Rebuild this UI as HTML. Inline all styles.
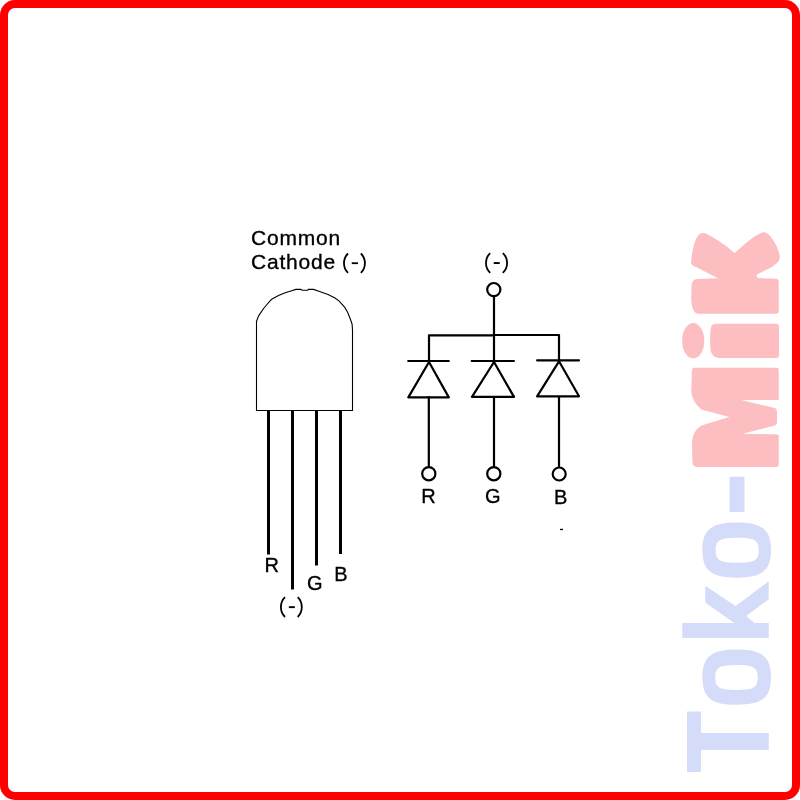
<!DOCTYPE html>
<html><head><meta charset="utf-8">
<style>
html,body{margin:0;padding:0;background:#fff;width:800px;height:800px;overflow:hidden}
svg{display:block;position:absolute;left:0;top:0}
text{font-family:"Liberation Sans",sans-serif;fill:#000;stroke:#000;stroke-width:0.35px}
svg{will-change:transform}
</style></head>
<body>
<svg width="800" height="800" viewBox="0 0 800 800">
  <!-- red frame -->
  <rect x="4" y="4" width="792" height="792" rx="11" ry="11" fill="#fff" stroke="#fe0000" stroke-width="8"/>

  <!-- watermark Toko- (lavender) -->
  <g fill="#d5dcfa">
    <!-- T -->
    <rect x="687" y="711.5" width="14" height="60.5"/>
    <rect x="701" y="733" width="67.75" height="17"/>
    <!-- o (first, near T) -->
    <path fill-rule="evenodd" d="M736.7,649.6 C762.08,649.6 771,656.78 771,677.2 C771,697.62 762.08,704.8 736.7,704.8 C711.32,704.8 702.4,697.62 702.4,677.2 C702.4,656.78 711.32,649.6 736.7,649.6Z M736.5,665 C753.5,665 757.75,667.5 757.75,677.5 C757.75,687.5 753.5,690 736.5,690 C719.5,690 715.25,687.5 715.25,677.5 C715.25,667.5 719.5,665 736.5,665Z"/>
    <!-- k -->
    <rect x="682.25" y="623" width="86.5" height="15"/>
    <polygon points="705.2,585.7 735.6,606 768.7,581.2 768.7,599.2 746.2,616.1 755.2,623.5 735,623.5 705.2,602.6"/>
    <!-- o (second) -->
    <path fill-rule="evenodd" d="M736.7,522.4 C762.08,522.4 771,529.59 771,550.05 C771,570.51 762.08,577.7 736.7,577.7 C711.32,577.7 702.4,570.51 702.4,550.05 C702.4,529.59 711.32,522.4 736.7,522.4Z M737.25,537.8 C754.49,537.8 758.8,540.3 758.8,550.3 C758.8,560.3 754.49,562.8 737.25,562.8 C720.01,562.8 715.7,560.3 715.7,550.3 C715.7,540.3 720.01,537.8 737.25,537.8Z"/>
    <!-- hyphen -->
    <rect x="729.5" y="476.75" width="15" height="35.25"/>
  </g>

  <!-- watermark MiK (pink) -->
  <g fill="#fdbec1">
    <!-- M -->
    <path d="M693.75,367.75 L776.9,367.75 Q778.75,367.75 778.75,370 L778.75,400 L741.25,400 L775,408.1 Q777,409 777,412 L777,422 Q777,425 775,425.5 L742.5,433.75 L778.1,434.4 Q778.75,434.6 778.75,436 L778.75,464.5 Q778.75,466.9 776.5,466.9 L696.25,466.9 Q692.5,466.5 692.5,462 L691.9,441.25 Q693,431 701.25,425.6 L729.4,416.9 L701.25,409.4 Q692,402 691.25,391.25 L691.9,372.5 Q692,367.9 693.75,367.75 Z"/>
    <!-- i dot -->
    <ellipse cx="693.2" cy="340.8" rx="11.1" ry="17.7"/>
    <!-- i stem -->
    <path d="M715,323.8 L776,323.8 Q779,323.8 779,327 L779,355 Q779,357.9 776,357.9 L718.5,357.9 Q712,357.5 710.5,350 Q709.7,340 710.5,330 Q711.5,323.8 715,323.8 Z"/>
    <!-- K -->
    <path d="M698.75,313.75 L776.9,313.75 Q778.75,313.5 778.75,311 L778.75,282 Q778.5,278.75 776,278.75 L758,278 Q755.5,276 757,274.5 L763,271.5 L772,267 Q780,262 779.9,257.25 Q779,247 769.75,235.5 Q766,231 762,232.5 L754.75,236.25 L745,243.75 L734.5,253 L726.25,246 L715,238.5 L705.25,233.25 Q700,232 697,237 Q692,247 691,263.25 Q692,266 696.25,267 L707.5,273 L718,278.25 L696.25,279 Q692,280 691.5,285 L691.25,300 Q692,313.75 698.75,313.75 Z"/>
  </g>

  <!-- LED package -->
  <g fill="none" stroke="#000" stroke-width="1.1">
    <path d="M256.5,410.5 L256.5,321.25 L258.4,316.25 L259.6,314.4 L263.4,308.75 L266.5,305 L270.25,300.6 L272.1,299 L279,295.3 L285.25,292.8 L290.9,290.9 L295.9,289.4 L300.9,289.4 L302,290.3 L307.7,290.3 L308.4,289.4 L313.6,289.4 L318.9,291.3 L328,294.45 L335,297.95 L339.2,301.1 L344.8,307.4 L347.6,312.3 L350.4,319.3 L352.1,324.2 L352.5,330 L352.5,410.5 Z"/>
  </g>
  <g fill="#000">
    <rect x="267" y="410" width="3" height="144.5"/>
    <rect x="291" y="410" width="3" height="179.5"/>
    <rect x="315" y="410" width="3" height="155.5"/>
    <rect x="339" y="410" width="3" height="144"/>
  </g>
  <text x="251" y="244.6" font-size="21" letter-spacing="0.8">Common</text>
  <text x="251" y="268.8" font-size="21" letter-spacing="0.8">Cathode</text>
  <path d="M285.00,597.20 C281.92,600.17 280.90,602.64 280.90,607.10 C280.90,611.56 281.92,614.03 285.00,617.00 M297.70,597.20 C300.77,600.17 301.80,602.64 301.80,607.10 C301.80,611.56 300.77,614.03 297.70,617.00" fill="none" stroke="#000" stroke-width="1.8"/><rect x="351.75" y="262.30" width="6.25" height="1.80" fill="#000"/>
  <text x="264.5" y="572" font-size="20">R</text>
  <text x="307" y="589.5" font-size="20">G</text>
  <text x="334.3" y="581" font-size="20">B</text>
  <path d="M490.20,253.10 C487.05,256.06 486.00,258.52 486.00,262.95 C486.00,267.38 487.05,269.85 490.20,272.80 M502.80,253.10 C506.03,256.06 507.10,258.52 507.10,262.95 C507.10,267.38 506.03,269.85 502.80,272.80" fill="none" stroke="#000" stroke-width="1.8"/><rect x="288.85" y="606.20" width="6.00" height="1.90" fill="#000"/>

  <!-- schematic -->
  <g fill="none" stroke="#000" stroke-width="2.2" stroke-linecap="round" stroke-linejoin="round">
    <circle cx="493.8" cy="289.6" r="6.6"/>
    <line x1="494" y1="296" x2="494" y2="361"/>
    <polyline points="429,361 429,335.3 494,335.3"/>
    <polyline points="494,335 559,335 559,361"/>
    <!-- diode R -->
    <line x1="408.2" y1="361" x2="448.8" y2="361"/>
    <polygon points="429,362 408.3,397.4 448.8,397.4"/>
    <line x1="428.8" y1="397" x2="428.8" y2="467"/>
    <circle cx="428.8" cy="473.7" r="6.6"/>
    <!-- diode G -->
    <line x1="471.7" y1="361" x2="513.9" y2="361"/>
    <polygon points="494,362 472,396.9 514,396.9"/>
    <line x1="494" y1="397" x2="494" y2="467"/>
    <circle cx="493.8" cy="473.7" r="6.6"/>
    <!-- diode B -->
    <line x1="537.1" y1="360.3" x2="579" y2="360.3"/>
    <polygon points="559,361.3 537.1,396.3 579,396.3"/>
    <line x1="559" y1="397" x2="559" y2="467"/>
    <circle cx="559.2" cy="474" r="6.5"/>
  </g>
  <path d="M348.00,253.50 C345.00,256.39 344.00,258.81 344.00,263.15 C344.00,267.49 345.00,269.91 348.00,272.80 M360.90,253.50 C363.90,256.39 364.90,258.81 364.90,263.15 C364.90,267.49 363.90,269.91 360.90,272.80" fill="none" stroke="#000" stroke-width="1.8"/><rect x="493.75" y="262.10" width="6.00" height="1.90" fill="#000"/>
  <text x="421.3" y="502.7" font-size="20">R</text>
  <text x="485" y="503" font-size="20">G</text>
  <text x="554" y="503.5" font-size="20">B</text>
  <rect x="560" y="528.8" width="3" height="1.3" fill="#000"/>
</svg>
</body></html>
